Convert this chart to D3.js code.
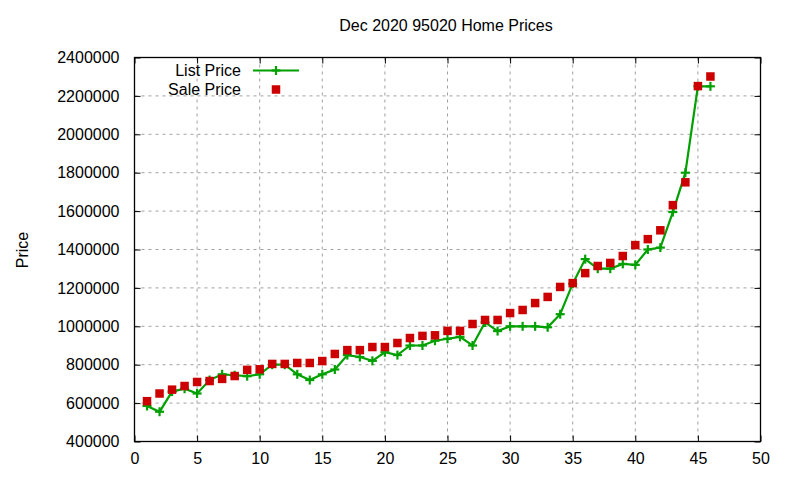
<!DOCTYPE html>
<html>
<head>
<meta charset="utf-8">
<script src="https://cdn.jsdelivr.net/npm/d3@7"></script>
<style>
  body { margin: 0; background: #fff; }
  svg { display: block; }
  text { font-family: "Liberation Sans", Arial, sans-serif; fill: #000; }
</style>
</head>
<body>
<svg id="chart" width="800" height="480"></svg>
<script>
const title = "Dec 2020 95020 Home Prices";
const yLabel = "Price";
const xIndex = [1,2,3,4,5,6,7,8,9,10,11,12,13,14,15,16,17,18,19,20,21,22,23,24,25,26,27,28,29,30,31,32,33,34,35,36,37,38,39,40,41,42,43,44,45,46];
const listPrice = [585000,555000,660000,675000,650000,720000,750000,745000,740000,750000,800000,800000,750000,720000,750000,775000,850000,840000,820000,865000,850000,900000,900000,925000,935000,945000,900000,1020000,975000,1000000,1000000,1000000,995000,1063000,1222000,1350000,1300000,1300000,1325000,1320000,1400000,1410000,1595000,1800000,2250000,2250000];
const salePrice = [610000,650000,670000,689000,710000,715000,726000,741000,773000,776000,804000,804000,809000,809000,819000,856000,876000,876000,892000,892000,913000,939000,950000,953000,976000,976000,1012000,1033000,1033000,1069000,1085000,1121000,1153000,1205000,1225000,1277000,1314000,1330000,1366000,1423000,1454000,1500000,1631000,1750000,2251000,2301000];
const xTicks = [0,5,10,15,20,25,30,35,40,45,50];
const yTicks = [400000,600000,800000,1000000,1200000,1400000,1600000,1800000,2000000,2200000,2400000];
const seriesNames = ["List Price", "Sale Price"];

const svg = d3.select("#chart");
const L = 134.5, R = 760.5, T = 57.5, B = 441.5;
const x = d3.scaleLinear().domain([0, 50]).range([L, R]);
const y = d3.scaleLinear().domain([400000, 2400000]).range([B, T]);
const green = "#00a000", red = "#cc0000";
const fs = 16;

// grid
const grid = svg.append("g").attr("stroke", "#a0a0a0").attr("stroke-width", 1).attr("stroke-dasharray", "3,4");
xTicks.slice(1, -1).forEach(v => grid.append("line").attr("x1", x(v)).attr("x2", x(v)).attr("y1", T).attr("y2", B));
yTicks.slice(1, -1).forEach(v => grid.append("line").attr("x1", L).attr("x2", R).attr("y1", y(v)).attr("y2", y(v)));

// axes with inward ticks (gnuplot style) on all sides
const tl = 6;
const axL = svg.append("g").attr("transform", `translate(${L},0)`)
  .call(d3.axisLeft(y).tickValues(yTicks).tickSize(-tl).tickPadding(15).tickFormat(d3.format("d")));
const axR = svg.append("g").attr("transform", `translate(${R},0)`)
  .call(d3.axisRight(y).tickValues(yTicks).tickSize(-tl).tickFormat(""));
const axB = svg.append("g").attr("transform", `translate(0,${B})`)
  .call(d3.axisBottom(x).tickValues(xTicks).tickSize(-tl).tickPadding(11).tickFormat(d3.format("d")));
const axT = svg.append("g").attr("transform", `translate(0,${T})`)
  .call(d3.axisTop(x).tickValues(xTicks).tickSize(-tl).tickFormat(""));
[axL, axR, axB, axT].forEach(a => {
  a.select(".domain").remove();
  a.selectAll("line").attr("stroke", "#000").attr("stroke-width", 1);
  a.selectAll("text").attr("font-size", fs).attr("font-family", "Liberation Sans, Arial, sans-serif").attr("fill", "#000");
});
svg.append("rect").attr("x", L).attr("y", T).attr("width", R - L).attr("height", B - T)
  .attr("fill", "none").attr("stroke", "#000").attr("stroke-width", 1.3);

// list price line
const listData = xIndex.map((d, i) => [d, listPrice[i]]);
const saleData = xIndex.map((d, i) => [d, salePrice[i]]);
svg.append("path").datum(listData)
  .attr("fill", "none").attr("stroke", green).attr("stroke-width", 2.2)
  .attr("d", d3.line().x(d => x(d[0])).y(d => y(d[1])));
const ps = 4.5;
const plus = (g, cx, cy) => {
  g.append("line").attr("x1", cx - ps).attr("x2", cx + ps).attr("y1", cy).attr("y2", cy);
  g.append("line").attr("x1", cx).attr("x2", cx).attr("y1", cy - ps).attr("y2", cy + ps);
};
const pg = svg.append("g").attr("stroke", green).attr("stroke-width", 2.2);
listData.forEach(d => plus(pg, x(d[0]), y(d[1])));

// sale price squares
const sq = 8.5;
svg.append("g").selectAll("rect").data(saleData).join("rect")
  .attr("x", d => x(d[0]) - sq / 2).attr("y", d => y(d[1]) - sq / 2)
  .attr("width", sq).attr("height", sq).attr("fill", red);

// legend
const lg = svg.append("g");
lg.append("text").attr("x", 241).attr("y", 76).attr("text-anchor", "end").attr("font-size", fs).text(seriesNames[0]);
lg.append("line").attr("x1", 253).attr("x2", 299).attr("y1", 70.5).attr("y2", 70.5).attr("stroke", green).attr("stroke-width", 2.2);
const lpg = lg.append("g").attr("stroke", green).attr("stroke-width", 2.2);
plus(lpg, 276, 70.5);
lg.append("text").attr("x", 241).attr("y", 95).attr("text-anchor", "end").attr("font-size", fs).text(seriesNames[1]);
lg.append("rect").attr("x", 276 - sq / 2).attr("y", 89.5 - sq / 2).attr("width", sq).attr("height", sq).attr("fill", red);

// title and y label
svg.append("text").attr("x", 446).attr("y", 31).attr("text-anchor", "middle").attr("font-size", fs).text(title);
svg.append("text").attr("transform", "translate(28,250) rotate(-90)").attr("text-anchor", "middle").attr("font-size", fs).text(yLabel);
</script>
</body>
</html>
